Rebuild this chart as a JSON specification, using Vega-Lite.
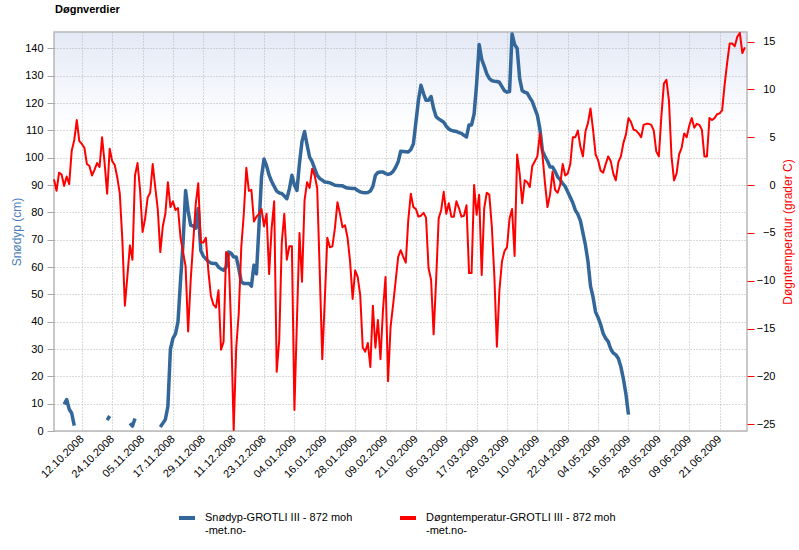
{
  "$schema": "https://vega.github.io/schema/vega-lite/v6.json",
  "width": 693,
  "height": 399,
  "autosize": {"type": "none"},
  "padding": {"left": 54, "top": 32, "right": 52, "bottom": 119},
  "background": "#ffffff",
  "title": {"text": "Døgnverdier", "anchor": "start", "frame": "group", "baseline": "alphabetic", "offset": 8, "fontSize": 11, "fontWeight": "bold", "font": "Liberation Sans", "color": "#000000", "dx": 1},
  "data": {"values": [
    {"date": "2008-10-01", "temp": 0.6},
    {"date": "2008-10-02", "temp": -0.6},
    {"date": "2008-10-03", "temp": 1.3},
    {"date": "2008-10-04", "temp": 1.1},
    {"date": "2008-10-05", "temp": -0.1, "snow": 9.8},
    {"date": "2008-10-06", "temp": 0.9, "snow": 11.5},
    {"date": "2008-10-07", "temp": 0.1, "snow": 8.0},
    {"date": "2008-10-08", "temp": 3.6, "snow": 6.5},
    {"date": "2008-10-09", "temp": 4.7, "snow": 2.0},
    {"date": "2008-10-10", "temp": 6.8},
    {"date": "2008-10-11", "temp": 4.6},
    {"date": "2008-10-12", "temp": 4.3},
    {"date": "2008-10-13", "temp": 3.9},
    {"date": "2008-10-14", "temp": 2.2},
    {"date": "2008-10-15", "temp": 2.0},
    {"date": "2008-10-16", "temp": 1.0},
    {"date": "2008-10-17", "temp": 1.6},
    {"date": "2008-10-18", "temp": 2.3},
    {"date": "2008-10-19", "temp": 1.9},
    {"date": "2008-10-20", "temp": 5.0},
    {"date": "2008-10-21", "temp": 2.3},
    {"date": "2008-10-22", "temp": -0.9, "snow": 4.0},
    {"date": "2008-10-23", "temp": 3.8, "snow": 5.5},
    {"date": "2008-10-24", "temp": 2.5},
    {"date": "2008-10-25", "temp": 2.1},
    {"date": "2008-10-26", "temp": 0.8},
    {"date": "2008-10-27", "temp": -0.9},
    {"date": "2008-10-28", "temp": -5.7},
    {"date": "2008-10-29", "temp": -12.6},
    {"date": "2008-10-30", "temp": -9.5},
    {"date": "2008-10-31", "temp": -6.3, "snow": 2.8},
    {"date": "2008-11-01", "temp": -7.8, "snow": 1.8},
    {"date": "2008-11-02", "temp": 1.0, "snow": 4.6},
    {"date": "2008-11-03", "temp": 2.3},
    {"date": "2008-11-04", "temp": -0.5},
    {"date": "2008-11-05", "temp": -4.9},
    {"date": "2008-11-06", "temp": -3.5},
    {"date": "2008-11-07", "temp": -1.3},
    {"date": "2008-11-08", "temp": -0.8},
    {"date": "2008-11-09", "temp": 2.2},
    {"date": "2008-11-10", "temp": -0.2},
    {"date": "2008-11-11", "temp": -2.5},
    {"date": "2008-11-12", "temp": -7.0, "snow": 1.5},
    {"date": "2008-11-13", "temp": -4.3, "snow": 2.8},
    {"date": "2008-11-14", "temp": -3.0, "snow": 4.2},
    {"date": "2008-11-15", "temp": 0.3, "snow": 9},
    {"date": "2008-11-16", "temp": -2.3, "snow": 30},
    {"date": "2008-11-17", "temp": -1.7, "snow": 33.9},
    {"date": "2008-11-18", "temp": -2.6, "snow": 35.5},
    {"date": "2008-11-19", "temp": -2.4, "snow": 40},
    {"date": "2008-11-20", "temp": -5.5, "snow": 55},
    {"date": "2008-11-21", "temp": -7.0, "snow": 69},
    {"date": "2008-11-22", "temp": -8.5, "snow": 88},
    {"date": "2008-11-23", "temp": -15.3, "snow": 80.5},
    {"date": "2008-11-24", "temp": -10, "snow": 75.3},
    {"date": "2008-11-25", "temp": -6.0, "snow": 75},
    {"date": "2008-11-26", "temp": -2.0, "snow": 74.2},
    {"date": "2008-11-27", "temp": 0.2, "snow": 81.4},
    {"date": "2008-11-28", "temp": -6.0, "snow": 66},
    {"date": "2008-11-29", "temp": -6.0, "snow": 64},
    {"date": "2008-11-30", "temp": -5.5, "snow": 63},
    {"date": "2008-12-01", "temp": -9, "snow": 62},
    {"date": "2008-12-02", "temp": -11.6, "snow": 61.5},
    {"date": "2008-12-03", "temp": -12.5, "snow": 61.3},
    {"date": "2008-12-04", "temp": -12.8, "snow": 61.3},
    {"date": "2008-12-05", "temp": -11.0, "snow": 60},
    {"date": "2008-12-06", "temp": -17.2, "snow": 59.3},
    {"date": "2008-12-07", "temp": -16.4, "snow": 58.8},
    {"date": "2008-12-08", "temp": -7.0, "snow": 60},
    {"date": "2008-12-09", "temp": -7.3, "snow": 65.5},
    {"date": "2008-12-10", "temp": -15, "snow": 65},
    {"date": "2008-12-11", "temp": -25.6, "snow": 63.7},
    {"date": "2008-12-12", "temp": -17, "snow": 63.7},
    {"date": "2008-12-13", "temp": -13.4, "snow": 59.5},
    {"date": "2008-12-14", "temp": -6.5, "snow": 54.6},
    {"date": "2008-12-15", "temp": -3.0, "snow": 54.0},
    {"date": "2008-12-16", "temp": 1.8, "snow": 54.0},
    {"date": "2008-12-17", "temp": -0.6, "snow": 54.0},
    {"date": "2008-12-18", "temp": -0.5, "snow": 53.0},
    {"date": "2008-12-19", "temp": -3.8, "snow": 60.7},
    {"date": "2008-12-20", "temp": -3.3, "snow": 57.5},
    {"date": "2008-12-21", "temp": -3.0, "snow": 75},
    {"date": "2008-12-22", "temp": -2.5, "snow": 93},
    {"date": "2008-12-23", "temp": -4.3, "snow": 99.5},
    {"date": "2008-12-24", "temp": -3.0, "snow": 97},
    {"date": "2008-12-25", "temp": -9.3, "snow": 93.6},
    {"date": "2008-12-26", "temp": -4.5, "snow": 91.3},
    {"date": "2008-12-27", "temp": -1.7, "snow": 89.5},
    {"date": "2008-12-28", "temp": -19.5, "snow": 87.8},
    {"date": "2008-12-29", "temp": -16.2, "snow": 87.1},
    {"date": "2008-12-30", "temp": -6, "snow": 86.9},
    {"date": "2008-12-31", "temp": -3.0, "snow": 86},
    {"date": "2009-01-01", "temp": -7.8, "snow": 85.0},
    {"date": "2009-01-02", "temp": -6.4, "snow": 88.5},
    {"date": "2009-01-03", "temp": -6.4, "snow": 93.6},
    {"date": "2009-01-04", "temp": -23.5, "snow": 90},
    {"date": "2009-01-05", "temp": -14.1, "snow": 88},
    {"date": "2009-01-06", "temp": -5.0, "snow": 98},
    {"date": "2009-01-07", "temp": -10.1, "snow": 106},
    {"date": "2009-01-08", "temp": -1.6, "snow": 109.6},
    {"date": "2009-01-09", "temp": 0.3, "snow": 104.7},
    {"date": "2009-01-10", "temp": -0.3, "snow": 100.2},
    {"date": "2009-01-11", "temp": 1.7, "snow": 98.6},
    {"date": "2009-01-12", "temp": 1.0, "snow": 96},
    {"date": "2009-01-13", "temp": -0.3, "snow": 93.5},
    {"date": "2009-01-14", "temp": -9.0, "snow": 92.4},
    {"date": "2009-01-15", "temp": -18.2, "snow": 91.8},
    {"date": "2009-01-16", "temp": -12, "snow": 91.1},
    {"date": "2009-01-17", "temp": -5.5, "snow": 91},
    {"date": "2009-01-18", "temp": -6.5, "snow": 90.8},
    {"date": "2009-01-19", "temp": -6.4, "snow": 90.4},
    {"date": "2009-01-20", "temp": -4.5, "snow": 89.9},
    {"date": "2009-01-21", "temp": -1.8, "snow": 89.8},
    {"date": "2009-01-22", "temp": -3.0, "snow": 89.7},
    {"date": "2009-01-23", "temp": -4.4, "snow": 89.7},
    {"date": "2009-01-24", "temp": -4.2, "snow": 89.2},
    {"date": "2009-01-25", "temp": -5.5, "snow": 88.9},
    {"date": "2009-01-26", "temp": -8.0, "snow": 88.8},
    {"date": "2009-01-27", "temp": -11.9, "snow": 88.7},
    {"date": "2009-01-28", "temp": -8.9, "snow": 88.7},
    {"date": "2009-01-29", "temp": -9.6, "snow": 88.0},
    {"date": "2009-01-30", "temp": -11.5, "snow": 87.5},
    {"date": "2009-01-31", "temp": -17.0, "snow": 87.3},
    {"date": "2009-02-01", "temp": -17.4, "snow": 87.2},
    {"date": "2009-02-02", "temp": -16.5, "snow": 87.3},
    {"date": "2009-02-03", "temp": -19.0, "snow": 87.8},
    {"date": "2009-02-04", "temp": -12.6, "snow": 89.5},
    {"date": "2009-02-05", "temp": -17.0, "snow": 93.5},
    {"date": "2009-02-06", "temp": -14.1, "snow": 94.6},
    {"date": "2009-02-07", "temp": -18.2, "snow": 94.8},
    {"date": "2009-02-08", "temp": -13, "snow": 94.8},
    {"date": "2009-02-09", "temp": -9.6, "snow": 94.2},
    {"date": "2009-02-10", "temp": -20.5, "snow": 93.9},
    {"date": "2009-02-11", "temp": -14.8, "snow": 94.2},
    {"date": "2009-02-12", "temp": -12.5, "snow": 95},
    {"date": "2009-02-13", "temp": -10, "snow": 96.5},
    {"date": "2009-02-14", "temp": -7.5, "snow": 98.5},
    {"date": "2009-02-15", "temp": -6.8, "snow": 102.4},
    {"date": "2009-02-16", "temp": -7.5, "snow": 102.3},
    {"date": "2009-02-17", "temp": -8.1, "snow": 102.2},
    {"date": "2009-02-18", "temp": -3.6, "snow": 102.1},
    {"date": "2009-02-19", "temp": -0.9, "snow": 103},
    {"date": "2009-02-20", "temp": -2.3, "snow": 105},
    {"date": "2009-02-21", "temp": -2.5, "snow": 113},
    {"date": "2009-02-22", "temp": -3.3, "snow": 121},
    {"date": "2009-02-23", "temp": -3.2, "snow": 126.5},
    {"date": "2009-02-24", "temp": -2.9, "snow": 123.5},
    {"date": "2009-02-25", "temp": -3.4, "snow": 121},
    {"date": "2009-02-26", "temp": -8.7, "snow": 121},
    {"date": "2009-02-27", "temp": -9.9, "snow": 122.4},
    {"date": "2009-02-28", "temp": -15.6, "snow": 118},
    {"date": "2009-03-01", "temp": -9.9, "snow": 115},
    {"date": "2009-03-02", "temp": -3.5, "snow": 114.2},
    {"date": "2009-03-03", "temp": -2.6, "snow": 113.6},
    {"date": "2009-03-04", "temp": -0.7, "snow": 113},
    {"date": "2009-03-05", "temp": -3.0, "snow": 111.5},
    {"date": "2009-03-06", "temp": -1.9, "snow": 110.5},
    {"date": "2009-03-07", "temp": -3.3, "snow": 110.0},
    {"date": "2009-03-08", "temp": -3.3, "snow": 109.8},
    {"date": "2009-03-09", "temp": -1.7, "snow": 109.6},
    {"date": "2009-03-10", "temp": -2.4, "snow": 109.2},
    {"date": "2009-03-11", "temp": -3.3, "snow": 108.9},
    {"date": "2009-03-12", "temp": -3.2, "snow": 108.2},
    {"date": "2009-03-13", "temp": -2.1, "snow": 107.6},
    {"date": "2009-03-14", "temp": -9.2, "snow": 112},
    {"date": "2009-03-15", "temp": -9.2, "snow": 112},
    {"date": "2009-03-16", "temp": 0.0, "snow": 116},
    {"date": "2009-03-17", "temp": -3.1, "snow": 127},
    {"date": "2009-03-18", "temp": -1.0, "snow": 141.4},
    {"date": "2009-03-19", "temp": -9.4, "snow": 136},
    {"date": "2009-03-20", "temp": -2.4, "snow": 133.5},
    {"date": "2009-03-21", "temp": -0.8, "snow": 130.7},
    {"date": "2009-03-22", "temp": -1.0, "snow": 129},
    {"date": "2009-03-23", "temp": -4.3, "snow": 128.2},
    {"date": "2009-03-24", "temp": -9.5, "snow": 128},
    {"date": "2009-03-25", "temp": -16.9, "snow": 127.9},
    {"date": "2009-03-26", "temp": -11, "snow": 127.6},
    {"date": "2009-03-27", "temp": -8, "snow": 126},
    {"date": "2009-03-28", "temp": -6.9, "snow": 124.5},
    {"date": "2009-03-29", "temp": -6.5, "snow": 124},
    {"date": "2009-03-30", "temp": -3.5, "snow": 124.2},
    {"date": "2009-03-31", "temp": -2.5, "snow": 145.3},
    {"date": "2009-04-01", "temp": -7.4, "snow": 141.5},
    {"date": "2009-04-02", "temp": 3.2, "snow": 140},
    {"date": "2009-04-03", "temp": 1.2, "snow": 129},
    {"date": "2009-04-04", "temp": -1.9, "snow": 124.5},
    {"date": "2009-04-05", "temp": 0.5, "snow": 124},
    {"date": "2009-04-06", "temp": 0.3, "snow": 123.6},
    {"date": "2009-04-07", "temp": -0.2, "snow": 122},
    {"date": "2009-04-08", "temp": 2.0, "snow": 120.5},
    {"date": "2009-04-09", "temp": 2.5, "snow": 118},
    {"date": "2009-04-10", "temp": 3.0, "snow": 115.5},
    {"date": "2009-04-11", "temp": 5.4, "snow": 110.5},
    {"date": "2009-04-12", "temp": 3.2, "snow": 102.5},
    {"date": "2009-04-13", "temp": 0.2, "snow": 100.5},
    {"date": "2009-04-14", "temp": -2.3, "snow": 98.8},
    {"date": "2009-04-15", "temp": -1.0, "snow": 96.6},
    {"date": "2009-04-16", "temp": 1.4, "snow": 96.6},
    {"date": "2009-04-17", "temp": -0.5, "snow": 95},
    {"date": "2009-04-18", "temp": -0.8, "snow": 93},
    {"date": "2009-04-19", "temp": 0.0, "snow": 92},
    {"date": "2009-04-20", "temp": 2.2, "snow": 90.5},
    {"date": "2009-04-21", "temp": 1.0, "snow": 89.5},
    {"date": "2009-04-22", "temp": 1.2, "snow": 87.5},
    {"date": "2009-04-23", "temp": 2.2, "snow": 85.5},
    {"date": "2009-04-24", "temp": 5.0, "snow": 83.5},
    {"date": "2009-04-25", "temp": 5.0, "snow": 80.8},
    {"date": "2009-04-26", "temp": 5.7, "snow": 79.3},
    {"date": "2009-04-27", "temp": 4.0, "snow": 77},
    {"date": "2009-04-28", "temp": 3.0, "snow": 72.5},
    {"date": "2009-04-29", "temp": 5.6, "snow": 68},
    {"date": "2009-04-30", "temp": 6.5, "snow": 62},
    {"date": "2009-05-01", "temp": 8.0, "snow": 53},
    {"date": "2009-05-02", "temp": 5.8, "snow": 49},
    {"date": "2009-05-03", "temp": 3.2, "snow": 43.5},
    {"date": "2009-05-04", "temp": 2.6, "snow": 41.5},
    {"date": "2009-05-05", "temp": 1.5, "snow": 39},
    {"date": "2009-05-06", "temp": 1.3, "snow": 35.7},
    {"date": "2009-05-07", "temp": 2.2, "snow": 33.9},
    {"date": "2009-05-08", "temp": 3.0, "snow": 32.7},
    {"date": "2009-05-09", "temp": 2.5, "snow": 30},
    {"date": "2009-05-10", "temp": 1.2, "snow": 28.5},
    {"date": "2009-05-11", "temp": 0.5, "snow": 27.9},
    {"date": "2009-05-12", "temp": 2.4, "snow": 26.5},
    {"date": "2009-05-13", "temp": 3.0, "snow": 23.5},
    {"date": "2009-05-14", "temp": 4.4, "snow": 19},
    {"date": "2009-05-15", "temp": 5.3, "snow": 13.5},
    {"date": "2009-05-16", "temp": 7.0, "snow": 6.0},
    {"date": "2009-05-17", "temp": 6.6},
    {"date": "2009-05-18", "temp": 5.8},
    {"date": "2009-05-19", "temp": 5.7},
    {"date": "2009-05-20", "temp": 5.4},
    {"date": "2009-05-21", "temp": 5.0},
    {"date": "2009-05-22", "temp": 6.3},
    {"date": "2009-05-23", "temp": 6.4},
    {"date": "2009-05-24", "temp": 6.4},
    {"date": "2009-05-25", "temp": 6.3},
    {"date": "2009-05-26", "temp": 5.7},
    {"date": "2009-05-27", "temp": 3.5},
    {"date": "2009-05-28", "temp": 3.0},
    {"date": "2009-05-29", "temp": 7.2},
    {"date": "2009-05-30", "temp": 10.6},
    {"date": "2009-05-31", "temp": 11.0},
    {"date": "2009-06-01", "temp": 8.8},
    {"date": "2009-06-02", "temp": 3.0},
    {"date": "2009-06-03", "temp": 0.5},
    {"date": "2009-06-04", "temp": 1.2},
    {"date": "2009-06-05", "temp": 3.2},
    {"date": "2009-06-06", "temp": 3.9},
    {"date": "2009-06-07", "temp": 5.4},
    {"date": "2009-06-08", "temp": 5.0},
    {"date": "2009-06-09", "temp": 6.2},
    {"date": "2009-06-10", "temp": 7.0},
    {"date": "2009-06-11", "temp": 6.0},
    {"date": "2009-06-12", "temp": 6.4},
    {"date": "2009-06-13", "temp": 6.3},
    {"date": "2009-06-14", "temp": 5.8},
    {"date": "2009-06-15", "temp": 3.0},
    {"date": "2009-06-16", "temp": 3.0},
    {"date": "2009-06-17", "temp": 7.0},
    {"date": "2009-06-18", "temp": 6.8},
    {"date": "2009-06-19", "temp": 7.0},
    {"date": "2009-06-20", "temp": 7.4},
    {"date": "2009-06-21", "temp": 7.5},
    {"date": "2009-06-22", "temp": 7.8},
    {"date": "2009-06-23", "temp": 10.5},
    {"date": "2009-06-24", "temp": 12.8},
    {"date": "2009-06-25", "temp": 14.8},
    {"date": "2009-06-26", "temp": 14.8},
    {"date": "2009-06-27", "temp": 14.5},
    {"date": "2009-06-28", "temp": 15.5},
    {"date": "2009-06-29", "temp": 15.9},
    {"date": "2009-06-30", "temp": 13.8},
    {"date": "2009-07-01", "temp": 14.4}
  ]},
  "encoding": {
    "x": {
      "field": "date", "type": "temporal",
      "scale": {"type": "utc", "domain": [{"year": 2008, "month": 10, "date": 1, "utc": true}, {"year": 2009, "month": 7, "date": 1, "hours": 20, "utc": true}], "nice": false},
      "axis": {
        "title": null,
        "labelExpr": "utcFormat(datum.value, '%d.%m.%Y')",
        "values": [
          {"year": 2008, "month": 10, "date": 12, "utc": true},
          {"year": 2008, "month": 10, "date": 24, "utc": true},
          {"year": 2008, "month": 11, "date": 5, "utc": true},
          {"year": 2008, "month": 11, "date": 17, "utc": true},
          {"year": 2008, "month": 11, "date": 29, "utc": true},
          {"year": 2008, "month": 12, "date": 11, "utc": true},
          {"year": 2008, "month": 12, "date": 23, "utc": true},
          {"year": 2009, "month": 1, "date": 4, "utc": true},
          {"year": 2009, "month": 1, "date": 16, "utc": true},
          {"year": 2009, "month": 1, "date": 28, "utc": true},
          {"year": 2009, "month": 2, "date": 9, "utc": true},
          {"year": 2009, "month": 2, "date": 21, "utc": true},
          {"year": 2009, "month": 3, "date": 5, "utc": true},
          {"year": 2009, "month": 3, "date": 17, "utc": true},
          {"year": 2009, "month": 3, "date": 29, "utc": true},
          {"year": 2009, "month": 4, "date": 10, "utc": true},
          {"year": 2009, "month": 4, "date": 22, "utc": true},
          {"year": 2009, "month": 5, "date": 4, "utc": true},
          {"year": 2009, "month": 5, "date": 16, "utc": true},
          {"year": 2009, "month": 5, "date": 28, "utc": true},
          {"year": 2009, "month": 6, "date": 9, "utc": true},
          {"year": 2009, "month": 6, "date": 21, "utc": true}
        ],
        "labelAngle": -45, "labelAlign": "right", "labelBaseline": "middle", "labelPadding": 6,
        "labelOverlap": false, "labelBound": false, "labelFlush": false,
        "ticks": false, "domain": false,
        "grid": true, "gridColor": "#b4b4b4", "gridDash": [1, 2], "gridWidth": 1
      }
    }
  },
  "layer": [
    {
      "mark": {"type": "line", "strokeWidth": 3.5, "strokeJoin": "round", "strokeCap": "butt", "invalid": "break-paths-filter-domains"},
      "encoding": {
        "y": {
          "field": "snow", "type": "quantitative",
          "scale": {"domain": [0, 146], "nice": false, "zero": true},
          "axis": {
            "orient": "left", "values": [0, 10, 20, 30, 40, 50, 60, 70, 80, 90, 100, 110, 120, 130, 140],
            "title": "Snødyp (cm)", "titleColor": "#4a7ebb", "titleFontSize": 12, "titleFontWeight": "normal",
            "titleAngle": 270, "titleX": -38, "titleY": 199.5, "titleAlign": "center", "titleBaseline": "middle",
            "labelPadding": 4, "tickSize": 7, "tickColor": "#a8a8a8", "domain": false,
            "grid": true, "gridColor": "#b4b4b4", "gridDash": [1, 2], "gridWidth": 1
          }
        },
        "color": {
          "datum": "Snødyp-GROTLI III - 872 moh",
          "scale": {"domain": ["Snødyp-GROTLI III - 872 moh", "Døgntemperatur-GROTLI III - 872 moh"], "range": ["#336699", "#ff0000"]},
          "legend": {
            "title": null, "orient": "none", "direction": "horizontal", "legendX": 123, "legendY": 476,
            "symbolType": "stroke", "symbolStrokeWidth": 4, "symbolSize": 256, "labelOffset": 8,
            "labelFontSize": 11, "labelColor": "#000000", "labelLimit": 400, "columnPadding": 39, "padding": 0,
            "labelExpr": "[datum.label, '\u00a0\u00a0-met.no-']"
          }
        }
      }
    },
    {
      "mark": {"type": "line", "strokeWidth": 2, "strokeJoin": "round"},
      "encoding": {
        "y": {
          "field": "temp", "type": "quantitative",
          "scale": {"domain": [-25.7, 16], "nice": false, "zero": false},
          "axis": {
            "orient": "right", "values": [-25, -20, -15, -10, -5, 0, 5, 10, 15],
            "title": "Døgntemperatur (grader C)", "titleColor": "#ff0000", "titleFontSize": 12, "titleFontWeight": "normal",
            "titleAngle": 270, "titleX": 40, "titleY": 199.5, "titleAlign": "center", "titleBaseline": "middle",
            "labelAlign": "right", "labelPadding": 21, "tickSize": 7, "tickColor": "#ff0000", "domain": false, "grid": false
          }
        },
        "color": {"datum": "Døgntemperatur-GROTLI III - 872 moh"}
      }
    }
  ],
  "resolve": {"scale": {"y": "independent"}},
  "config": {
    "font": "Liberation Sans",
    "view": {"stroke": "#b8b8b8", "strokeWidth": 1.5, "fill": {"gradient": "linear", "x1": 0, "y1": 0, "x2": 0, "y2": 1, "stops": [{"offset": 0, "color": "#e3e9f6"}, {"offset": 0.24, "color": "#ffffff"}, {"offset": 1, "color": "#ffffff"}]}},
    "axis": {"labelFontSize": 11, "labelColor": "#000000", "labelFont": "Liberation Sans", "titleFont": "Liberation Sans"},
    "legend": {"labelFont": "Liberation Sans"}
  }
}
